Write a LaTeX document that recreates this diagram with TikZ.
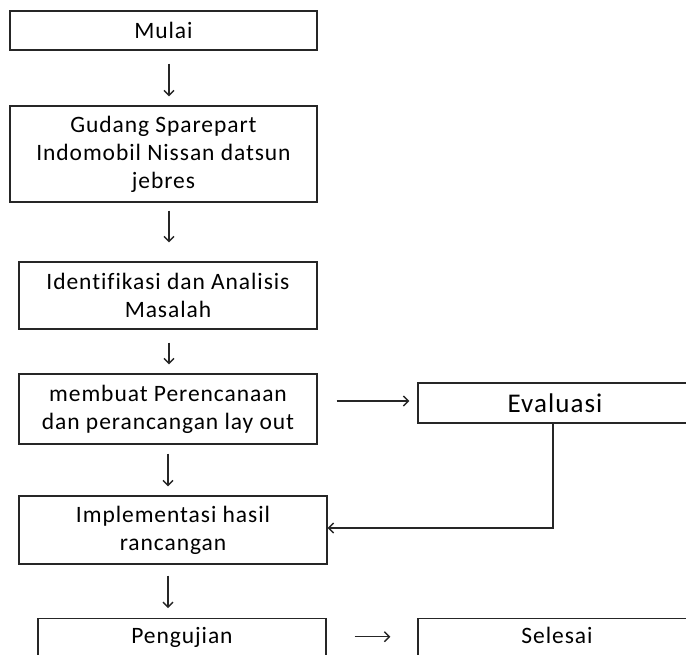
\documentclass[tikz,border=0pt]{standalone}
\usepackage{fontspec}
\setmainfont{Carlito}[Ligatures=NoCommon, LetterSpace=4]
\usetikzlibrary{arrows.meta}
\begin{document}
\begin{tikzpicture}[x=1pt,y=-1pt,
  box/.style={draw=black!85, line width=1.4pt, rectangle, align=center, inner sep=0pt,
    font=\fontsize{23.5}{28}\selectfont},
  arr/.style={draw=black!85, line width=1.3pt, -{Straight Barb[length=5pt,width=10pt,line width=1.4pt]}}]
\useasboundingbox (0,0) rectangle (686,654);
\node[box, minimum width=307, minimum height=39] (mulai) at (163.5,30.5) {Mulai};
\node[box, minimum width=307, minimum height=96] (gudang) at (163.5,154) {Gudang Sparepart\\Indomobil Nissan datsun\\jebres};
\node[box, minimum width=298, minimum height=67] (ident) at (168,295.5) {Identifikasi dan Analisis\\Masalah};
\node[box, minimum width=298, minimum height=70] (buat) at (168,409) {membuat Perencanaan\\dan perancangan lay out};
\node[box, minimum width=274, minimum height=40, font=\fontsize{27}{32}\selectfont] (eval) at (555,403) {Evaluasi};
\node[box, minimum width=308, minimum height=68] (impl) at (173,530) {Implementasi hasil\\rancangan};
\node[box, minimum width=288, text height=12pt, text depth=50pt, inner ysep=13pt, anchor=north] (peng) at (182,618) {Pengujian};
\node[box, minimum width=278, text height=12pt, text depth=50pt, inner ysep=13pt, anchor=north] (sel) at (557,618) {Selesai};
\draw[arr, shorten <=13pt, shorten >=9pt] ([xshift=5.5pt]mulai.south) -- ([xshift=5.5pt]gudang.north);
\draw[arr, shorten <=8pt, shorten >=19pt] ([xshift=5.5pt]gudang.south) -- ([xshift=1pt]ident.north);
\draw[arr, shorten <=13pt, shorten >=9pt] ([xshift=1pt]ident.south) -- ([xshift=1pt]buat.north);
\draw[arr, shorten <=9pt, shorten >=9pt] (buat.south) -- ([xshift=-5pt]impl.north);
\draw[arr, shorten <=11pt, shorten >=10pt] ([xshift=-5pt]impl.south) -- ([xshift=-14pt]peng.north);
\draw[arr, shorten <=19pt, shorten >=8pt] ([yshift=8pt]buat.east) -- ([yshift=2pt]eval.west);
\draw[arr] ([xshift=-2pt]eval.south) |- ([yshift=2pt]impl.east);
\draw[arr, shorten <=28pt, shorten >=27pt] ([yshift=7pt]peng.base east) -- ([yshift=7pt]sel.base west);
\end{tikzpicture}
\end{document}
